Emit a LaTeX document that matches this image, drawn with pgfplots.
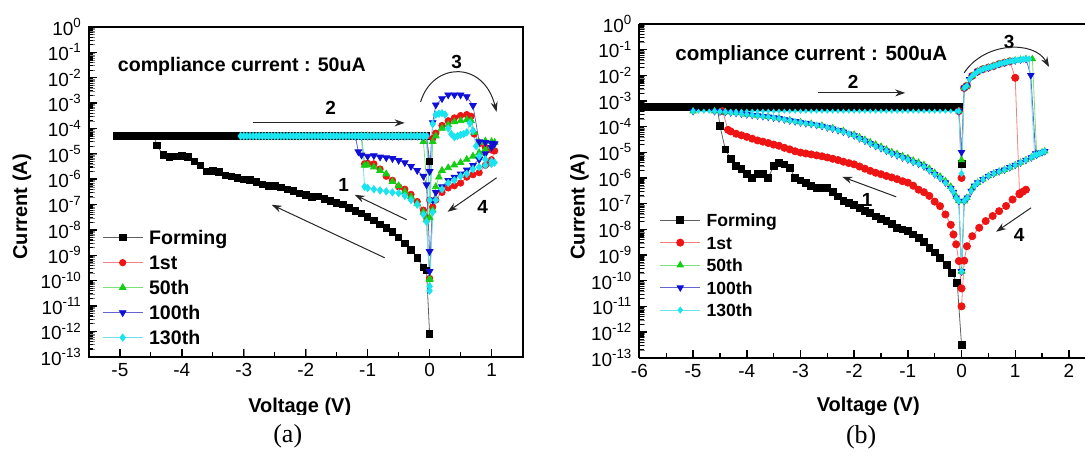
\documentclass[border=0pt]{standalone}
\usepackage{pgfplots}
\pgfplotsset{compat=1.18}
\usetikzlibrary{arrows.meta}
\usepackage{fontspec}
\setmainfont{Liberation Sans}
\newfontfamily\timesf{Liberation Serif}

\definecolor{cred}{RGB}{238,20,20}
\definecolor{lred}{RGB}{240,130,130}
\definecolor{cgreen}{RGB}{20,205,20}
\definecolor{lgreen}{RGB}{120,225,120}
\definecolor{cblue}{RGB}{15,15,215}
\definecolor{lblue}{RGB}{100,100,210}
\definecolor{ccyan}{RGB}{25,228,240}
\definecolor{lcyan}{RGB}{110,225,235}
\definecolor{lgray}{RGB}{95,95,95}

\tikzset{
  sF/.style={color=lgray, line width=0.4pt, mark=square*, mark options={draw=black, fill=black}, mark size=#1},
  s1/.style={color=lred, line width=0.4pt, mark=*, mark options={draw=cred, fill=cred}, mark size=#1},
  s50/.style={color=lgreen, line width=0.4pt, mark=triangle*, mark options={draw=cgreen, fill=cgreen}, mark size=#1},
  s100/.style={color=lblue, line width=0.4pt, mark=triangle*, mark options={draw=cblue, fill=cblue, rotate=180}, mark size=#1},
  s130/.style={color=lcyan, line width=0.4pt, mark=diamond*, mark options={draw=ccyan, fill=ccyan}, mark size=#1},
}
\pgfplotsset{
  legend image code/.code={\draw[mark repeat=2,mark phase=2,#1] plot coordinates {(0pt,0pt) (10pt,0pt) (20pt,0pt)};},
}

\begin{document}
\begin{tikzpicture}
\path (0,0) rectangle (543pt,226pt);

% ---------------- panel (a) ----------------
\begin{axis}[scale only axis, ymode=log, ymin=1e-13, ymax=1,
  ytick={1e-13,1e-12,1e-11,1e-10,1e-9,1e-8,1e-7,1e-6,1e-5,1e-4,1e-3,1e-2,1e-1,1},
  yticklabels={10\textsuperscript{-13},10\textsuperscript{-12},10\textsuperscript{-11},10\textsuperscript{-10},10\textsuperscript{-9},10\textsuperscript{-8},10\textsuperscript{-7},10\textsuperscript{-6},10\textsuperscript{-5},10\textsuperscript{-4},10\textsuperscript{-3},10\textsuperscript{-2},10\textsuperscript{-1},10\textsuperscript{0}},
  tick pos=left, tick align=inside,
  axis line style={line width=1pt},
  major tick length=4pt,
  tick label style={font=\fontsize{9.5}{10}\selectfont},
  legend cell align=left,
  at={(44.5pt,47.5pt)}, anchor=south west, width=217pt, height=165pt,
  xmin=-5.5, xmax=1.5, xtick={-5,-4,-3,-2,-1,0,1}, xticklabels={-5,-4,-3,-2,-1,0,1},
  legend style={at={(0.03,0.40)}, anchor=north west, draw=none, fill=none, inner sep=0pt,
     font=\bfseries\fontsize{9.8}{10}\selectfont, row sep=0pt,
     nodes={inner xsep=3pt, inner ysep=0pt, minimum height=12.5pt, text height=7pt, text depth=0pt}},
]
\addplot[sF=1.6pt] coordinates {
(0,7.9e-13) (-0.05,2.5e-10) (-0.1,3.3e-10) (-0.2,7.9e-10) (-0.3,1.6e-9) (-0.4,3e-9) (-0.5,5e-9) (-0.6,8.3e-9) (-0.7,1.2e-8) (-0.8,1.6e-8) (-0.9,2.4e-8) (-1.0,3.2e-8) (-1.1,4.5e-8) (-1.2,5.6e-8) (-1.3,7.4e-8) (-1.4,1e-7) (-1.5,1.17e-7) (-1.6,1.4e-7) (-1.7,1.66e-7) (-1.8,2.1e-7) (-1.9,2e-7) (-2.0,2.4e-7) (-2.1,2.8e-7) (-2.2,3.4e-7) (-2.3,4e-7) (-2.4,4.8e-7) (-2.5,5.4e-7) (-2.6,5.5e-7) (-2.7,6.3e-7) (-2.8,7.9e-7) (-2.9,9.3e-7) (-3.0,1e-6) (-3.1,1.1e-6) (-3.2,1.26e-6) (-3.3,1.4e-6) (-3.4,1.9e-6) (-3.5,2.1e-6) (-3.6,2e-6) (-3.7,3.5e-6) (-3.8,5e-6) (-3.9,7.6e-6) (-4.0,8.3e-6) (-4.1,7.9e-6) (-4.2,7.6e-6) (-4.3,8.9e-6) (-4.4,2.1e-5)
(-4.45,5e-5) (-5.05,5e-5) (-5.0,5e-5) (-4.95,5e-5) (-4.9,5e-5) (-4.85,5e-5) (-4.8,5e-5) (-4.75,5e-5) (-4.7,5e-5) (-4.65,5e-5) (-4.6,5e-5) (-4.55,5e-5) (-4.5,5e-5) (-4.45,5e-5) (-4.4,5e-5) (-4.35,5e-5) (-4.3,5e-5) (-4.25,5e-5) (-4.2,5e-5) (-4.15,5e-5) (-4.1,5e-5) (-4.05,5e-5) (-4.0,5e-5) (-3.95,5e-5) (-3.9,5e-5) (-3.85,5e-5) (-3.8,5e-5) (-3.75,5e-5) (-3.7,5e-5) (-3.65,5e-5) (-3.6,5e-5) (-3.55,5e-5) (-3.5,5e-5) (-3.45,5e-5) (-3.4,5e-5) (-3.35,5e-5) (-3.3,5e-5) (-3.25,5e-5) (-3.2,5e-5) (-3.15,5e-5) (-3.1,5e-5) (-3.05,5e-5) (-3.0,5e-5) (-2.9,5e-5) (-2.8,5e-5) (-2.7,5e-5) (-2.6,5e-5) (-2.5,5e-5) (-2.4,5e-5) (-2.3,5e-5) (-2.2,5e-5) (-2.1,5e-5) (-2.0,5e-5) (-1.9,5e-5) (-1.8,5e-5) (-1.7,5e-5) (-1.6,5e-5) (-1.5,5e-5) (-1.4,5e-5) (-1.3,5e-5) (-1.2,5e-5) (-1.1,5e-5) (-1.0,5e-5) (-0.9,5e-5) (-0.8,5e-5) (-0.7,5e-5) (-0.6,5e-5) (-0.5,5e-5) (-0.4,5e-5) (-0.3,5e-5) (-0.2,5e-5) (-0.1,5e-5) (-0.05,5e-5) (0,4.9e-6)
};
\addlegendentry{Forming}
\addplot[s1=1.6pt] coordinates {
(0,1.2e-10) (-0.05,3e-8) (-0.1,6e-8) (-0.2,1.3e-7) (-0.3,2.5e-7) (-0.4,4e-7) (-0.5,5e-7) (-0.6,9e-7) (-0.7,1.3e-6) (-0.8,2.5e-6) (-0.9,4e-6) (-1.0,4.2e-6) (-1.05,4e-6)
(-1.1,5e-5) (-1.0,5e-5) (-0.9,5e-5) (-0.8,5e-5) (-0.7,5e-5) (-0.6,5e-5) (-0.5,5e-5) (-0.4,5e-5) (-0.3,5e-5) (-0.2,5e-5) (-0.1,5e-5) (-0.05,5e-5)
(0,1.5e-7)
(0.05,4e-5) (0.1,6.5e-5) (0.2,1.3e-4) (0.3,2e-4) (0.4,2.6e-4) (0.5,3.2e-4) (0.6,3.5e-4) (0.67,3e-4) (0.72,6e-5) (0.8,2.5e-5) (0.9,1.8e-5) (1.0,1.4e-5) (1.05,1.3e-5)
(1.0,5.8e-6) (0.95,4.3e-6) (0.9,3.5e-6) (0.8,1.8e-6) (0.7,1.5e-6) (0.6,1.2e-6) (0.5,7e-7) (0.4,5.5e-7) (0.3,4.5e-7) (0.2,3e-7) (0.1,1.5e-7) (0.05,8e-8) (0,1.2e-10)
};
\addlegendentry{1st}
\addplot[s50=1.9pt] coordinates {
(0,1.1e-10) (-0.05,2.5e-8) (-0.1,5e-8) (-0.2,1.1e-7) (-0.3,2e-7) (-0.4,3.2e-7) (-0.5,5.5e-7) (-0.6,8e-7) (-0.7,1.6e-6) (-0.8,2.2e-6) (-0.9,3e-6) (-1.0,3.6e-6) (-1.05,3.5e-6)
(-1.1,5e-5) (-1.0,5e-5) (-0.9,5e-5) (-0.8,5e-5) (-0.7,5e-5) (-0.6,5e-5) (-0.5,5e-5) (-0.4,5e-5) (-0.3,5e-5) (-0.2,5e-5) (-0.1,3e-5)
(0,3e-8)
(0.05,3e-5) (0.1,5e-5) (0.2,1e-4) (0.3,1.4e-4) (0.4,1.8e-4) (0.5,2e-4) (0.6,2.2e-4) (0.67,2e-4) (0.72,7e-5) (0.8,2.8e-5) (0.9,3.2e-5) (1.0,3e-5) (1.05,2.8e-5)
(1.0,2e-5) (0.9,1.5e-5) (0.8,1.1e-5) (0.7,8e-6) (0.6,6e-6) (0.5,4.5e-6) (0.4,3.6e-6) (0.3,2.8e-6) (0.2,2.2e-6) (0.15,1.2e-6) (0.1,5e-7) (0.05,6e-8) (0,1.2e-10)
};
\addlegendentry{50th}
\addplot[s100=1.9pt] coordinates {
(0,1.4e-9) (-0.05,6e-7) (-0.1,1.3e-6) (-0.2,2.2e-6) (-0.3,3.2e-6) (-0.4,4.5e-6) (-0.5,5.5e-6) (-0.6,6.5e-6) (-0.7,7e-6) (-0.8,7.5e-6) (-0.9,8.5e-6) (-1.0,8e-6) (-1.1,9e-6) (-1.15,1.2e-5)
(-1.2,5e-5) (-1.1,5e-5) (-1.0,5e-5) (-0.9,5e-5) (-0.8,5e-5) (-0.7,5e-5) (-0.6,5e-5) (-0.5,5e-5) (-0.4,5e-5) (-0.3,5e-5) (-0.2,5e-5) (-0.1,5e-5) (-0.05,5e-5)
(0,2e-6)
(0.05,1.7e-4) (0.1,8.5e-4) (0.2,1.5e-3) (0.3,2.1e-3) (0.4,2.1e-3) (0.5,2.1e-3) (0.6,1.8e-3) (0.7,8e-4) (0.8,3e-5) (0.9,2.8e-5) (1.0,2.6e-5) (1.05,2.5e-5)
(1.0,1.8e-5) (0.9,1e-5) (0.8,6e-6) (0.7,3.5e-6) (0.6,2.3e-6) (0.5,1.6e-6) (0.4,1.2e-6) (0.3,9e-7) (0.2,5e-7) (0.1,3e-7) (0.05,1.5e-7) (0,2.3e-10)
};
\addlegendentry{100th}
\addplot[s130=1.8pt] coordinates {
(0,6e-11) (-0.05,2.1e-8) (-0.1,4e-8) (-0.2,1e-7) (-0.3,1.5e-7) (-0.4,2.2e-7) (-0.5,2.8e-7) (-0.6,3e-7) (-0.7,3.3e-7) (-0.8,3.6e-7) (-0.9,4e-7) (-1.0,4.5e-7) (-1.05,5e-7)
(-1.1,5e-5) (-3.05,5e-5) (-3.0,5e-5) (-2.95,5e-5) (-2.9,5e-5) (-2.85,5e-5) (-2.8,5e-5) (-2.75,5e-5) (-2.7,5e-5) (-2.65,5e-5) (-2.6,5e-5) (-2.55,5e-5) (-2.5,5e-5) (-2.45,5e-5) (-2.4,5e-5) (-2.35,5e-5) (-2.3,5e-5) (-2.25,5e-5) (-2.2,5e-5) (-2.15,5e-5) (-2.1,5e-5) (-2.05,5e-5) (-2.0,5e-5) (-1.95,5e-5) (-1.9,5e-5) (-1.85,5e-5) (-1.8,5e-5) (-1.75,5e-5) (-1.7,5e-5) (-1.65,5e-5) (-1.6,5e-5) (-1.55,5e-5) (-1.5,5e-5) (-1.45,5e-5) (-1.4,5e-5) (-1.35,5e-5) (-1.3,5e-5) (-1.25,5e-5) (-1.2,5e-5) (-1.15,5e-5) (-1.1,5e-5) (-1.05,5e-5) (-1.0,5e-5) (-0.95,5e-5) (-0.9,5e-5) (-0.85,5e-5) (-0.8,5e-5) (-0.75,5e-5) (-0.7,5e-5) (-0.65,5e-5) (-0.6,5e-5) (-0.55,5e-5) (-0.5,5e-5) (-0.45,5e-5) (-0.4,5e-5) (-0.35,5e-5) (-0.3,5e-5) (-0.25,5e-5) (-0.2,5e-5) (-0.15,5e-5) (-0.1,5e-5) (-0.05,5e-5)
(0,1.5e-7)
(0.05,1.5e-4) (0.1,3.5e-4) (0.15,3.8e-4) (0.2,4e-4) (0.25,3.5e-4) (0.3,1e-4) (0.35,6e-5) (0.4,4.5e-5) (0.45,5e-5) (0.5,5.6e-5) (0.55,6e-5) (0.6,7e-5) (0.65,1.6e-4) (0.7,8e-5) (0.75,2e-5) (0.8,8e-6) (0.9,6e-6) (1.0,5e-6) (1.05,4.5e-6)
(1.0,4e-6) (0.9,3.5e-6) (0.8,3e-6) (0.7,2.5e-6) (0.6,1.6e-6) (0.5,1.3e-6) (0.4,9e-7) (0.3,7e-7) (0.2,4e-7) (0.1,1.5e-7) (0.05,5e-8) (0,4e-11)
};
\addlegendentry{130th}
\end{axis}

% ---------------- panel (b) ----------------
\begin{axis}[scale only axis, ymode=log, ymin=1e-13, ymax=1,
  ytick={1e-13,1e-12,1e-11,1e-10,1e-9,1e-8,1e-7,1e-6,1e-5,1e-4,1e-3,1e-2,1e-1,1},
  yticklabels={10\textsuperscript{-13},10\textsuperscript{-12},10\textsuperscript{-11},10\textsuperscript{-10},10\textsuperscript{-9},10\textsuperscript{-8},10\textsuperscript{-7},10\textsuperscript{-6},10\textsuperscript{-5},10\textsuperscript{-4},10\textsuperscript{-3},10\textsuperscript{-2},10\textsuperscript{-1},10\textsuperscript{0}},
  axis x line*=box, axis y line*=left,
  tick align=inside, xtick pos=left,
  axis line style={line width=1pt, -},
  major tick length=4pt,
  tick label style={font=\fontsize{9.5}{10}\selectfont},
  legend cell align=left,
  at={(320pt,47pt)}, anchor=south west, width=223pt, height=167pt,
  xmin=-6, xmax=2.3, xtick={-6,-5,-4,-3,-2,-1,0,1,2}, xticklabels={-6,-5,-4,-3,-2,-1,0,1,2},
  legend style={at={(0.045,0.447)}, anchor=north west, draw=none, fill=none, inner sep=0pt,
     font=\bfseries\fontsize{8.8}{9}\selectfont, row sep=0pt,
     nodes={inner xsep=3pt, inner ysep=0pt, minimum height=11.25pt, text height=6.5pt, text depth=0pt}},
]
\addplot[sF=1.7pt] coordinates {
(0,3.2e-13) (-0.08,8e-11) (-0.18,2e-10) (-0.28,4.2e-10) (-0.4,7.8e-10) (-0.5,1.26e-9) (-0.6,1.9e-9) (-0.7,3.2e-9) (-0.8,4.7e-9) (-0.9,6.3e-9) (-1.0,8.5e-9) (-1.1,1e-8) (-1.2,1.15e-8) (-1.3,1.6e-8) (-1.4,2.1e-8) (-1.5,2.6e-8) (-1.6,3.2e-8) (-1.7,4.3e-8) (-1.8,5.4e-8) (-1.9,7e-8) (-2.0,8.7e-8) (-2.1,1.1e-7) (-2.2,1.3e-7) (-2.3,1.9e-7) (-2.4,2.9e-7) (-2.5,4e-7) (-2.6,4.2e-7) (-2.7,4.2e-7) (-2.8,5e-7) (-2.9,6.3e-7) (-3.0,8e-7) (-3.1,1e-6) (-3.2,2.5e-6) (-3.3,3.4e-6) (-3.4,4e-6) (-3.5,3e-6) (-3.6,1e-6) (-3.7,1.4e-6) (-3.8,1.4e-6) (-3.9,1e-6) (-4.0,1.4e-6) (-4.1,2.2e-6) (-4.2,3e-6) (-4.3,5.5e-6) (-4.4,1.3e-5) (-4.5,1.07e-4)
(-4.55,6e-4) (-5.95,6e-4) (-5.9,6e-4) (-5.8,6e-4) (-5.7,6e-4) (-5.6,6e-4) (-5.5,6e-4) (-5.4,6e-4) (-5.3,6e-4) (-5.2,6e-4) (-5.1,6e-4) (-5.0,6e-4) (-4.9,6e-4) (-4.8,6e-4) (-4.7,6e-4) (-4.6,6e-4) (-4.5,6e-4) (-4.4,6e-4) (-4.3,6e-4) (-4.2,6e-4) (-4.1,6e-4) (-4.0,6e-4) (-3.9,6e-4) (-3.8,6e-4) (-3.7,6e-4) (-3.6,6e-4) (-3.5,6e-4) (-3.4,6e-4) (-3.3,6e-4) (-3.2,6e-4) (-3.1,6e-4) (-3.0,6e-4) (-2.9,6e-4) (-2.8,6e-4) (-2.7,6e-4) (-2.6,6e-4) (-2.5,6e-4) (-2.4,6e-4) (-2.3,6e-4) (-2.2,6e-4) (-2.1,6e-4) (-2.0,6e-4) (-1.9,6e-4) (-1.8,6e-4) (-1.7,6e-4) (-1.6,6e-4) (-1.5,6e-4) (-1.4,6e-4) (-1.3,6e-4) (-1.2,6e-4) (-1.1,6e-4) (-1.0,6e-4) (-0.9,6e-4) (-0.8,6e-4) (-0.7,6e-4) (-0.6,6e-4) (-0.5,6e-4) (-0.4,6e-4) (-0.3,6e-4) (-0.2,6e-4) (-0.1,6e-4) (-0.05,6e-4) (0,3.5e-6)
};
\addlegendentry{Forming}
\addplot[s1=1.8pt] coordinates {
(0,5e-11) (-0.05,5.8e-10) (-0.1,2.6e-9) (-0.15,6.3e-9) (-0.2,1.5e-8) (-0.3,3.8e-8) (-0.4,8e-8) (-0.5,1.2e-7) (-0.6,2e-7) (-0.7,2.8e-7) (-0.8,3.5e-7) (-0.9,5e-7) (-1.0,6.6e-7) (-1.1,7.5e-7) (-1.2,9e-7) (-1.3,1.05e-6) (-1.4,1.2e-6) (-1.5,1.4e-6) (-1.6,1.6e-6) (-1.7,1.9e-6) (-1.8,2.3e-6) (-1.9,2.8e-6) (-2.0,3.4e-6) (-2.1,3.8e-6) (-2.2,4.3e-6) (-2.3,5e-6) (-2.4,5.6e-6) (-2.5,6.3e-6) (-2.6,7e-6) (-2.7,7.6e-6) (-2.8,8.3e-6) (-2.9,9e-6) (-3.0,9.8e-6) (-3.1,1.1e-5) (-3.2,1.3e-5) (-3.3,1.5e-5) (-3.4,1.8e-5) (-3.5,2e-5) (-3.6,2.3e-5) (-3.7,2.6e-5) (-3.8,2.9e-5) (-3.9,3.4e-5) (-4.0,4e-5) (-4.1,4.6e-5) (-4.2,5.3e-5) (-4.3,6.5e-5) (-4.35,7.5e-5)
(-4.45,4e-4) (-0.05,4e-4) (0,1e-6)
(0.05,3.2e-3) (0.1,3.9e-3) (0.2,9.5e-3) (0.3,1.4e-2) (0.4,1.74e-2) (0.5,2e-2) (0.6,2.3e-2) (0.7,2.75e-2) (0.8,3.1e-2) (0.9,3.5e-2) (1.0,8e-3)
(1.08,2.5e-7) (1.14,2.9e-7) (1.2,3.5e-7) (1.08,2.3e-7) (0.95,1.45e-7) (0.83,8.1e-8) (0.7,5.1e-8) (0.58,3.3e-8) (0.45,2.1e-8) (0.33,1.15e-8) (0.2,5.4e-9) (0.1,2.2e-9) (0.05,6e-10) (0,1e-11)
};
\addlegendentry{1st}
\addplot[s50=1.8pt] coordinates {
(0,2.3e-10) (-0.05,1.3e-7) (-0.1,1.9e-7) (-0.2,4.6e-7) (-0.3,7.6e-7) (-0.4,1.15e-6) (-0.5,1.6e-6) (-0.6,2.3e-6) (-0.7,3.2e-6) (-0.8,4e-6) (-0.9,4.8e-6) (-1.0,6e-6) (-1.1,7.2e-6) (-1.2,8.7e-6) (-1.3,1.03e-5) (-1.4,1.3e-5) (-1.5,1.65e-5) (-1.6,2e-5) (-1.7,2.5e-5) (-1.8,3.1e-5) (-1.9,3.9e-5) (-2.0,4.9e-5) (-2.2,6.8e-5) (-2.4,8.8e-5) (-2.6,1.1e-4) (-2.8,1.3e-4) (-3.0,1.5e-4) (-3.2,1.8e-4) (-3.4,2.15e-4) (-3.6,2.45e-4) (-3.8,2.75e-4) (-4.0,3e-4) (-4.2,3.4e-4) (-4.4,3.7e-4) (-4.6,4e-4) (-5.0,4e-4) (-0.05,4e-4)
(0,5e-6) (0.05,3.2e-3) (0.1,3.9e-3) (0.2,9.5e-3) (0.3,1.4e-2) (0.4,1.74e-2) (0.5,2e-2) (0.6,2.3e-2) (0.7,2.75e-2) (0.8,3.1e-2) (0.9,3.5e-2) (1.0,3.8e-2) (1.1,4.1e-2) (1.2,4.3e-2) (1.32,4.3e-2)
(1.4,8.5e-6) (1.55,1.1e-5) (1.5,1e-5) (1.4,8e-6) (1.3,6.3e-6) (1.2,5e-6) (1.1,4e-6) (1.0,3.2e-6) (0.9,2.6e-6) (0.8,2.1e-6) (0.7,1.8e-6) (0.6,1.5e-6) (0.5,1.2e-6) (0.4,8.9e-7) (0.3,6.6e-7) (0.2,4e-7) (0.1,1.7e-7) (0.05,1.26e-7) (0,2.3e-10)
};
\addlegendentry{50th}
\addplot[s100=1.8pt] coordinates {
(0,2.3e-10) (-0.05,1.26e-7) (-0.1,1.7e-7) (-0.15,2.8e-7) (-0.2,4e-7) (-0.3,6.6e-7) (-0.4,1e-6) (-0.5,1.4e-6) (-0.6,2e-6) (-0.7,2.8e-6) (-0.8,3.5e-6) (-0.9,4.2e-6) (-1.0,5.2e-6) (-1.1,6.3e-6) (-1.2,7.6e-6) (-1.3,9e-6) (-1.4,1.15e-5) (-1.5,1.45e-5) (-1.6,1.75e-5) (-1.7,2.2e-5) (-1.8,2.8e-5) (-1.9,3.5e-5) (-2.0,4.5e-5) (-2.1,5.3e-5) (-2.2,6.3e-5) (-2.3,7.2e-5) (-2.4,8.3e-5) (-2.5,9.3e-5) (-2.6,1.05e-4) (-2.7,1.15e-4) (-2.8,1.26e-4) (-2.9,1.35e-4) (-3.0,1.45e-4) (-3.1,1.6e-4) (-3.2,1.74e-4) (-3.3,1.9e-4) (-3.4,2.1e-4) (-3.5,2.25e-4) (-3.6,2.4e-4) (-3.7,2.55e-4) (-3.8,2.7e-4) (-3.9,2.85e-4) (-4.0,3e-4) (-4.1,3.2e-4) (-4.2,3.4e-4) (-4.3,3.55e-4) (-4.4,3.7e-4) (-4.5,3.85e-4) (-4.6,4e-4) (-5.0,4e-4) (-0.05,4e-4)
(0,1e-5) (0.05,3.2e-3) (0.1,3.9e-3) (0.15,7e-3) (0.2,9.5e-3) (0.3,1.4e-2) (0.4,1.74e-2) (0.5,2e-2) (0.6,2.3e-2) (0.7,2.75e-2) (0.8,3.1e-2) (0.9,3.5e-2) (1.0,3.8e-2) (1.1,4.1e-2) (1.2,4.3e-2) (1.29,1e-2)
(1.38,9e-6) (1.45,9.5e-6) (1.55,1.1e-5) (1.5,1e-5) (1.4,8e-6) (1.3,6.3e-6) (1.2,5e-6) (1.1,4e-6) (1.0,3.2e-6) (0.9,2.6e-6) (0.8,2.1e-6) (0.7,1.8e-6) (0.6,1.5e-6) (0.5,1.2e-6) (0.4,8.9e-7) (0.3,6.6e-7) (0.24,4.9e-7) (0.18,3.1e-7) (0.11,1.7e-7) (0.05,1.26e-7) (0,2.3e-10)
};
\addlegendentry{100th}
\addplot[s130=1.5pt] coordinates {
(0,2.3e-10) (-0.05,1.26e-7) (-0.1,1.7e-7) (-0.15,2.8e-7) (-0.2,4e-7) (-0.3,6.6e-7) (-0.4,1e-6) (-0.5,1.4e-6) (-0.6,2e-6) (-0.7,2.8e-6) (-0.8,3.5e-6) (-0.9,4.2e-6) (-1.0,5.2e-6) (-1.1,6.3e-6) (-1.2,7.6e-6) (-1.3,9e-6) (-1.4,1.15e-5) (-1.5,1.45e-5) (-1.6,1.75e-5) (-1.7,2.2e-5) (-1.8,2.8e-5) (-1.9,3.5e-5) (-2.0,4.5e-5) (-2.1,5.3e-5) (-2.2,6.3e-5) (-2.3,7.2e-5) (-2.4,8.3e-5) (-2.5,9.3e-5) (-2.6,1.05e-4) (-2.7,1.15e-4) (-2.8,1.26e-4) (-2.9,1.35e-4) (-3.0,1.45e-4) (-3.1,1.6e-4) (-3.2,1.74e-4) (-3.3,1.9e-4) (-3.4,2.1e-4) (-3.5,2.25e-4) (-3.6,2.4e-4) (-3.7,2.55e-4) (-3.8,2.7e-4) (-3.9,2.85e-4) (-4.0,3e-4) (-4.1,3.2e-4) (-4.2,3.4e-4) (-4.3,3.55e-4) (-4.4,3.7e-4) (-4.5,3.85e-4) (-4.6,4e-4) (-5.0,4e-4) (-0.05,4e-4)
(0,1.5e-6) (0.05,3.2e-3) (0.1,3.9e-3) (0.15,7e-3) (0.2,9.5e-3) (0.25,1.15e-2) (0.3,1.4e-2) (0.35,1.57e-2) (0.4,1.74e-2) (0.45,1.87e-2) (0.5,2e-2) (0.55,2.15e-2) (0.6,2.3e-2) (0.65,2.5e-2) (0.7,2.75e-2) (0.75,2.9e-2) (0.8,3.1e-2) (0.85,3.3e-2) (0.9,3.5e-2) (0.95,3.65e-2) (1.0,3.8e-2) (1.05,3.95e-2) (1.1,4.1e-2) (1.15,4.2e-2) (1.2,4.3e-2) (1.26,4.3e-2)
(1.36,8e-6) (1.45,9e-6) (1.55,1.1e-5) (1.5,1e-5) (1.4,8e-6) (1.3,6.3e-6) (1.2,5e-6) (1.1,4e-6) (1.0,3.2e-6) (0.9,2.6e-6) (0.8,2.1e-6) (0.7,1.8e-6) (0.6,1.5e-6) (0.5,1.2e-6) (0.4,8.9e-7) (0.3,6.6e-7) (0.24,4.9e-7) (0.18,3.1e-7) (0.11,1.7e-7) (0.05,1.26e-7) (0,2.3e-10)
};
\addlegendentry{130th}
\addplot[s130=1.0pt, forget plot] coordinates {
(-5.0,4e-4) (-4.9,4e-4) (-4.8,4e-4) (-4.7,4e-4) (-4.6,4e-4) (-4.5,4e-4) (-4.4,4e-4) (-4.3,4e-4) (-4.2,4e-4) (-4.1,4e-4) (-4.0,4e-4) (-3.9,4e-4) (-3.8,4e-4) (-3.7,4e-4) (-3.6,4e-4) (-3.5,4e-4) (-3.4,4e-4) (-3.3,4e-4) (-3.2,4e-4) (-3.1,4e-4) (-3.0,4e-4) (-2.9,4e-4) (-2.8,4e-4) (-2.7,4e-4) (-2.6,4e-4) (-2.5,4e-4) (-2.4,4e-4) (-2.3,4e-4) (-2.2,4e-4) (-2.1,4e-4) (-2.0,4e-4) (-1.9,4e-4) (-1.8,4e-4) (-1.7,4e-4) (-1.6,4e-4) (-1.5,4e-4) (-1.4,4e-4) (-1.3,4e-4) (-1.2,4e-4) (-1.1,4e-4) (-1.0,4e-4) (-0.9,4e-4) (-0.8,4e-4) (-0.7,4e-4) (-0.6,4e-4) (-0.5,4e-4) (-0.4,4e-4) (-0.3,4e-4) (-0.2,4e-4) (-0.1,4e-4) (-0.05,4e-4)
};
\end{axis}

% ---------------- labels, tick marks and annotations (pixel coordinates of the reference) ----------------
\begin{scope}[x=0.5pt, y=-0.5pt, yshift=226pt]
  % tick marks of panel (a): axis box x 89..523, y 27..357
  \foreach \kk in {0,...,13} {\draw[black, line width=0.7pt] (89,{27+25.3846*\kk}) -- ++(8,0);}
  \foreach \kk in {0,...,12} {\foreach \mm in {2,...,9} {\draw[black, line width=0.55pt] (89,{27+25.3846*(\kk+1-log10(\mm))}) -- ++(4.4,0);}}
  \foreach \xx in {-5,...,1} {\draw[black, line width=0.7pt] ({89+62*(\xx+5.5)},357) -- ++(0,-8);}
  \foreach \xx in {-4.5,-3.5,-2.5,-1.5,-0.5,0.5} {\draw[black, line width=0.6pt] ({89+62*(\xx+5.5)},357) -- ++(0,-4.4);}
  % tick marks of panel (b): axis box x 640..(1086), y 24..358
  \foreach \kk in {0,...,13} {\draw[black, line width=0.7pt] (640,{24+25.6923*\kk}) -- ++(8,0);}
  \foreach \kk in {0,...,12} {\foreach \mm in {2,...,9} {\draw[black, line width=0.55pt] (640,{24+25.6923*(\kk+1-log10(\mm))}) -- ++(4.4,0);}}
  \foreach \xx in {-6,...,2} {\draw[black, line width=0.7pt] ({640+53.735*(\xx+6)},358) -- ++(0,-8);}
  \foreach \xx in {-5.5,-4.5,-3.5,-2.5,-1.5,-0.5,0.5,1.5} {\draw[black, line width=0.6pt] ({640+53.735*(\xx+6)},358) -- ++(0,-4.4);}

  \node[rotate=90, font=\bfseries\fontsize{10}{11}\selectfont] at (22,207) {Current (A)};
  \node[rotate=90, font=\bfseries\fontsize{10}{11}\selectfont] at (580,207) {Current (A)};
  \node[font=\bfseries\fontsize{10}{11}\selectfont] at (300,408) {Voltage (V)};
  \node[font=\bfseries\fontsize{10}{11}\selectfont] at (869,407) {Voltage (V)};
  \fill[white] (0,415.5) rectangle (1086,421);
  \node[font=\timesf\fontsize{13}{14}\selectfont] at (288,437) {(a)};
  \node[font=\timesf\fontsize{13}{14}\selectfont] at (862,438) {(b)};

  \begin{scope}[font=\bfseries\fontsize{9.5}{10}\selectfont]
    \node[anchor=west, font=\bfseries\fontsize{9.8}{10}\selectfont] at (111,67) {compliance current : 50uA};
    \node at (457,62) {3};
    \node at (331,108) {2};
    \node at (344,185) {1};
    \node at (483,207) {4};
    \node[anchor=west, font=\bfseries\fontsize{10.3}{11}\selectfont] at (669,55) {compliance current : 500uA};
    \node at (1010,42) {3};
    \node at (854,82) {2};
    \node at (868,200) {1};
    \node at (1020,235) {4};
  \end{scope}

  \begin{scope}[line width=0.5pt, black!85, -{Stealth[length=5pt,width=3.5pt]}]
    \draw (253,123) -- (405,123);
    \draw (407,220) -- (355,195);
    \draw (385,258) -- (272,205);
    \draw (497,178) -- (448,212);
    \draw (421,102) .. controls (433,62) and (484,60) .. (497,112);
    \draw (819,93) -- (906,93);
    \draw (897,197) -- (843,177);
    \draw (1032,208) -- (997,232);
    \draw (965,73) .. controls (985,42) and (1035,40) .. (1050,67);
  \end{scope}
\end{scope}
\end{tikzpicture}
\end{document}
